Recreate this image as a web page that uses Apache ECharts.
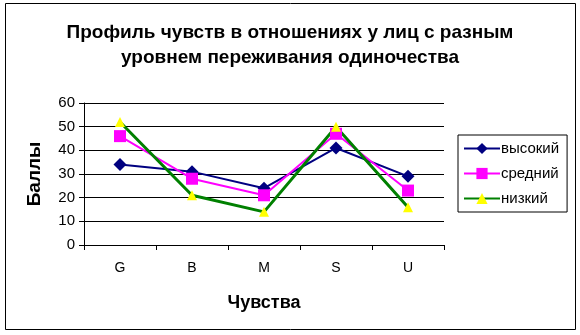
<!DOCTYPE html>
<html><head><meta charset="utf-8">
<script src="https://cdn.jsdelivr.net/npm/echarts@6/dist/echarts.min.js"></script>
<style>html,body{margin:0;padding:0;background:#fff}#c{width:580px;height:335px}</style>
</head><body><div id="c"></div>
<script>
const categories = ['G','B','M','S','U'];
const seriesNames = ['высокий','средний','низкий'];
const high = [34, 31, 24, 41, 29];
const mid = [46, 28, 21, 47, 23];
const low = [52, 21, 14, 50, 16];
const yTicks = [0,10,20,30,40,50,60];

const chart = echarts.init(document.getElementById('c'), null, {renderer:'canvas'});
const font = 'Liberation Sans, Arial, sans-serif';
chart.setOption({
  animation:false,
  backgroundColor:'#fff',
  title:{
    text:'Профиль чувств в отношениях у лиц с разным\nуровнем переживания одиночества',
    left:'center', top:15,
    textStyle:{fontFamily:font,fontSize:19,fontWeight:'bold',color:'#000',lineHeight:25}
  },
  graphic:[{type:'rect',shape:{x:5.5,y:3.5,width:570,height:326},style:{fill:null,stroke:'#000',lineWidth:1},silent:true}],
  legend:{
    orient:'vertical', left:458, top:135, itemGap:10,
    data:seriesNames,
    backgroundColor:'#fff', borderColor:'#000', borderWidth:1, padding:[6,8,6,5],
    itemWidth:36, itemHeight:14,
    textStyle:{fontFamily:font,fontSize:15,color:'#000',padding:[0,0,0,-4]}
  },
  grid:{left:84,right:136,top:103,bottom:90},
  xAxis:{
    type:'category', data:categories, boundaryGap:true,
    name:'Чувства', nameLocation:'middle', nameGap:49,
    nameTextStyle:{fontFamily:font,fontSize:18,fontWeight:'bold',color:'#000'},
    axisLine:{lineStyle:{color:'#000',width:1}},
    axisTick:{show:true,length:5,inside:false,lineStyle:{color:'#000'}},
    axisLabel:{fontFamily:font,fontSize:14,color:'#000',margin:16}
  },
  yAxis:{
    type:'value', min:yTicks[0], max:yTicks[yTicks.length-1], interval:10,
    name:'Баллы', nameLocation:'middle', nameGap:40, nameRotate:90,
    nameTextStyle:{fontFamily:font,fontSize:19,fontWeight:'bold',color:'#000'},
    axisLine:{show:true,lineStyle:{color:'#000',width:1}},
    axisTick:{show:true,length:5,lineStyle:{color:'#000'}},
    axisLabel:{fontFamily:font,fontSize:15,color:'#000',margin:9},
    splitLine:{show:true,lineStyle:{color:'#000',width:1}}
  },
  series:[
    {name:seriesNames[0],type:'line',data:high,symbol:'diamond',symbolSize:13,
     lineStyle:{color:'#000080',width:2},itemStyle:{color:'#000080'}},
    {name:seriesNames[1],type:'line',data:mid,symbol:'rect',symbolSize:12,
     lineStyle:{color:'#FF00FF',width:2},itemStyle:{color:'#FF00FF'}},
    {name:seriesNames[2],type:'line',data:low,symbol:'triangle',symbolSize:10,
     lineStyle:{color:'#008000',width:3},itemStyle:{color:'#FFFF00'}}
  ]
});
</script></body></html>
